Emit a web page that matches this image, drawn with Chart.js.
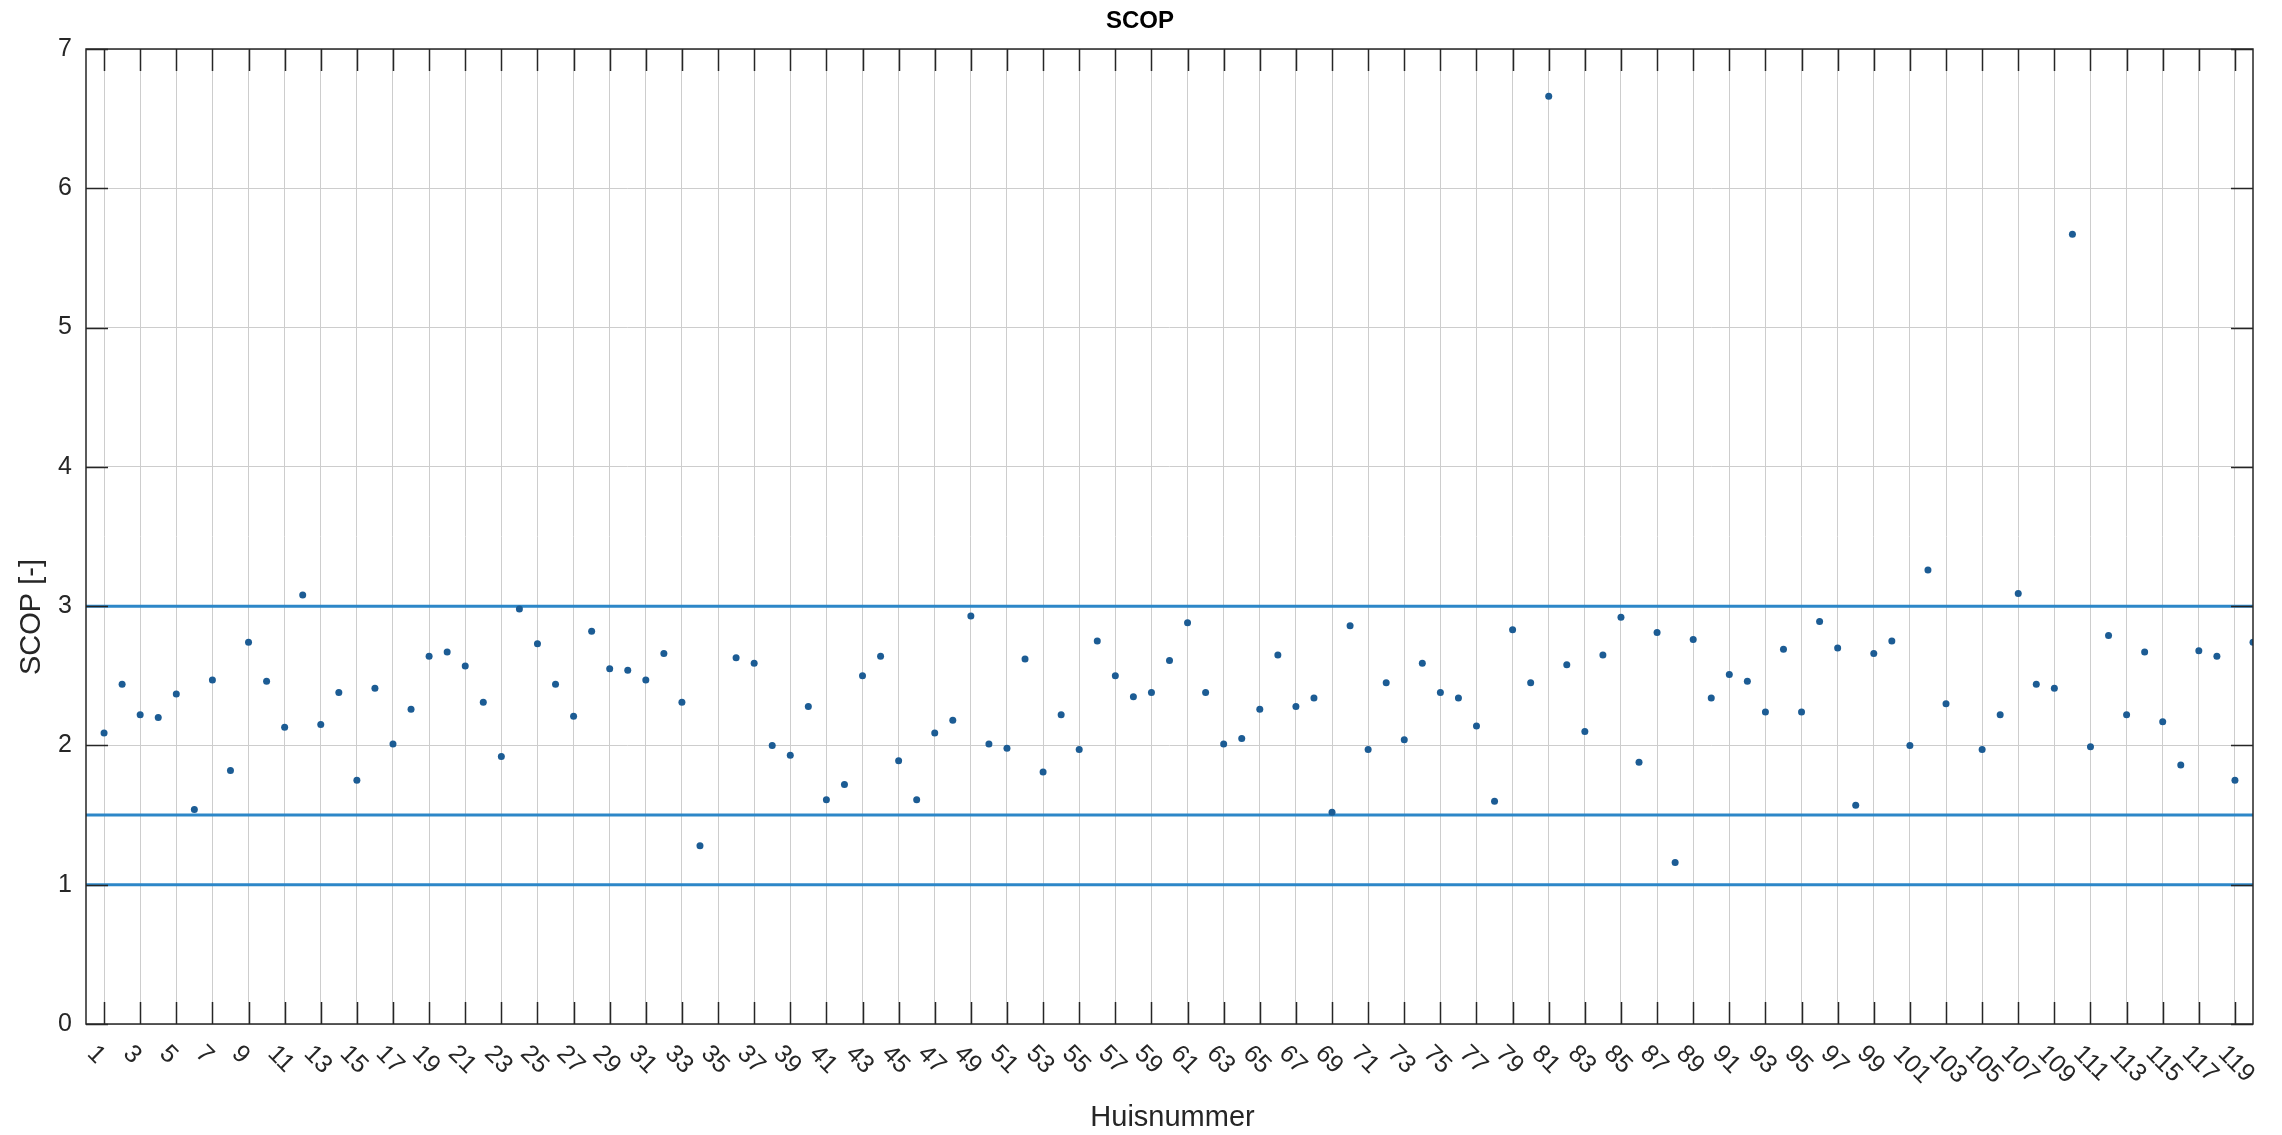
<!DOCTYPE html>
<html>
<head>
<meta charset="utf-8">
<script src="https://cdn.jsdelivr.net/npm/chart.js@4.4.1/dist/chart.umd.min.js"></script>
<style>
html,body{margin:0;padding:0;background:#ffffff;}
#wrap{width:2282px;height:1135px;position:relative;}
</style>
</head>
<body>
<div id="wrap"><canvas id="c" width="2282" height="1135"></canvas></div>
<script>
// ---- data ----
const huisnummer = [1,2,3,4,5,6,7,8,9,10,11,12,13,14,15,16,17,18,19,20,
  21,22,23,24,25,26,27,28,29,30,31,32,33,34,35,36,37,38,39,40,
  41,42,43,44,45,46,47,48,49,50,51,52,53,54,55,56,57,58,59,60,
  61,62,63,64,65,66,67,68,69,70,71,72,73,74,75,76,77,78,79,80,
  81,82,83,84,85,86,87,88,89,90,91,92,93,94,95,96,97,98,99,100,
  101,102,103,104,105,106,107,108,109,110,111,112,113,114,115,116,117,118,119,120];
const scop = [2.09,2.44,2.22,2.20,2.37,1.54,2.47,1.82,2.74,2.46,
  2.13,3.08,2.15,2.38,1.75,2.41,2.01,2.26,2.64,2.67,
  2.57,2.31,1.92,2.98,2.73,2.44,2.21,2.82,2.55,2.54,
  2.47,2.66,2.31,1.28,null,2.63,2.59,2.00,1.93,2.28,
  1.61,1.72,2.50,2.64,1.89,1.61,2.09,2.18,2.93,2.01,
  1.98,2.62,1.81,2.22,1.97,2.75,2.50,2.35,2.38,2.61,
  2.88,2.38,2.01,2.05,2.26,2.65,2.28,2.34,1.52,2.86,
  1.97,2.45,2.04,2.59,2.38,2.34,2.14,1.60,2.83,2.45,
  6.66,2.58,2.10,2.65,2.92,1.88,2.81,1.16,2.76,2.34,
  2.51,2.46,2.24,2.69,2.24,2.89,2.70,1.57,2.66,2.75,
  2.00,3.26,2.30,null,1.97,2.22,3.09,2.44,2.41,5.67,
  1.99,2.79,2.22,2.67,2.17,1.86,2.68,2.64,1.75,2.74];
const xTickLabels = [1,3,5,7,9,11,13,15,17,19,21,23,25,27,29,31,33,35,37,39,
  41,43,45,47,49,51,53,55,57,59,61,63,65,67,69,71,73,75,77,79,
  81,83,85,87,89,91,93,95,97,99,101,103,105,107,109,111,113,115,117,119];
const yTickValues = [0,1,2,3,4,5,6,7];
const thresholds = [1, 1.5, 3];
const xRange = [0, 120];
const yRange = [0, 7];
const chartTitle = 'SCOP';
const xTitle = 'Huisnummer';
const yTitle = 'SCOP [-]';

// ---- styles ----
const FONT = '"Liberation Sans", Arial, Helvetica, sans-serif';
const AXIS = '#262626';
const GRID = '#cdcdcd';
const LINE_BLUE = 'rgb(45,135,200)';
const DOT_BLUE = 'rgb(28,92,148)';
const TICK_LEN = 22;

const points = [];
huisnummer.forEach((h, i) => { if (scop[i] !== null) points.push({x: h, y: scop[i]}); });

const datasets = [{
  label: 'SCOP',
  data: points,
  showLine: false,
  pointRadius: 3.5,
  pointHoverRadius: 3.5,
  pointBackgroundColor: DOT_BLUE,
  pointBorderColor: DOT_BLUE,
  pointBorderWidth: 0,
  order: 0
}];
thresholds.forEach(t => {
  datasets.push({
    label: 'grens ' + t,
    data: [{x: xRange[0], y: t}, {x: xRange[1], y: t}],
    showLine: true,
    borderColor: LINE_BLUE,
    borderWidth: 3,
    pointRadius: 0,
    fill: false,
    order: 1
  });
});

const matlabAxes = {
  id: 'matlabAxes',
  afterDatasetsDraw(chart) {
    const {ctx, chartArea: a, scales: {x, y}} = chart;
    ctx.save();
    // box
    ctx.strokeStyle = AXIS;
    ctx.lineWidth = 1.5;
    ctx.strokeRect(a.left, a.top, a.right - a.left, a.bottom - a.top);
    // inward ticks
    ctx.beginPath();
    xTickLabels.forEach(v => {
      const px = Math.round(x.getPixelForValue(v)) + 0.5;
      ctx.moveTo(px, a.bottom); ctx.lineTo(px, a.bottom - TICK_LEN);
      ctx.moveTo(px, a.top); ctx.lineTo(px, a.top + TICK_LEN);
    });
    yTickValues.forEach(v => {
      const py = Math.round(y.getPixelForValue(v)) + 0.5;
      ctx.moveTo(a.left, py); ctx.lineTo(a.left + TICK_LEN, py);
      ctx.moveTo(a.right, py); ctx.lineTo(a.right - TICK_LEN, py);
    });
    ctx.stroke();
    // rotated x tick labels
    ctx.fillStyle = AXIS;
    ctx.font = '25px ' + FONT;
    ctx.textAlign = 'left';
    ctx.textBaseline = 'middle';
    xTickLabels.forEach(v => {
      const px = x.getPixelForValue(v);
      ctx.save();
      ctx.translate(px - 13, a.bottom + 26);
      ctx.rotate(Math.PI / 4);
      ctx.fillText(String(v), 0, 0);
      ctx.restore();
    });
    // axis titles
    ctx.font = '29px ' + FONT;
    ctx.textAlign = 'center';
    ctx.textBaseline = 'middle';
    ctx.fillText(xTitle, (a.left + a.right) / 2 + 3, 1118);
    ctx.save();
    ctx.translate(32, 617);
    ctx.rotate(-Math.PI / 2);
    ctx.fillText(yTitle, 0, 0);
    ctx.restore();
    // title
    ctx.font = 'bold 24px ' + FONT;
    ctx.fillStyle = '#000000';
    ctx.fillText(chartTitle, 1140, 21);
    ctx.restore();
  }
};

new Chart(document.getElementById('c'), {
  type: 'scatter',
  data: {datasets},
  options: {
    responsive: false,
    animation: false,
    devicePixelRatio: 1,
    layout: {padding: {top: 49, right: 29, bottom: 0, left: 0}},
    plugins: {legend: {display: false}, tooltip: {enabled: false}, title: {display: false}},
    scales: {
      x: {
        type: 'linear',
        min: xRange[0], max: xRange[1],
        afterBuildTicks: s => { s.ticks = xTickLabels.map(v => ({value: v})); },
        afterFit: s => { s.height = 111; s.paddingLeft = 0; s.paddingRight = 0; },
        ticks: {display: false},
        grid: {color: GRID, lineWidth: 1, drawTicks: false},
        border: {display: false}
      },
      y: {
        type: 'linear',
        min: yRange[0], max: yRange[1],
        afterBuildTicks: s => { s.ticks = yTickValues.map(v => ({value: v})); },
        afterFit: s => { s.width = 86; s.paddingTop = 0; s.paddingBottom = 0; },
        ticks: {color: AXIS, font: {size: 25, family: FONT}, padding: 14},
        grid: {color: GRID, lineWidth: 1, drawTicks: false},
        border: {display: false}
      }
    }
  },
  plugins: [matlabAxes]
});
</script>
</body>
</html>
